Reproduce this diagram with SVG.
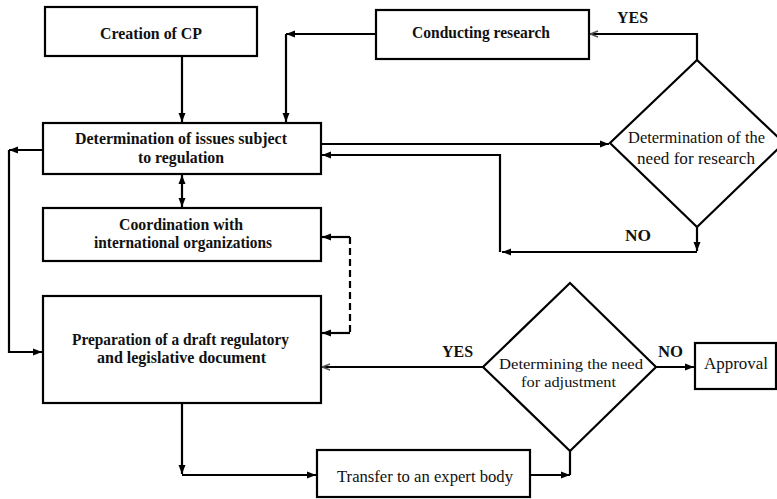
<svg xmlns="http://www.w3.org/2000/svg" width="777" height="499" viewBox="0 0 777 499">
  <style>
    .box { fill: #fff; stroke: #000; stroke-width: 2.2; }
    .line { fill: none; stroke: #000; stroke-width: 2.2; }
    .dash { fill: none; stroke: #000; stroke-width: 2.2; stroke-dasharray: 7 4; }
    .t { font-family: "Liberation Serif", "DejaVu Serif", "Noto Serif", serif; font-size: 17px; fill: #111; }
    .s { font-size: 15px; }
    .b { font-weight: bold; }
    .lbl { font-family: "Liberation Serif", "DejaVu Serif", "Noto Serif", serif; font-size: 16px; font-weight: bold; fill: #111; }
  </style>
  <defs>
    <marker id="arr" markerUnits="userSpaceOnUse" markerWidth="10" markerHeight="8" refX="9" refY="4" orient="auto">
      <path d="M0,0.5 L9,4 L0,7.5 Z" fill="#000"/>
    </marker>
    <marker id="arrS" markerUnits="userSpaceOnUse" markerWidth="10" markerHeight="8" refX="1" refY="4" orient="auto">
      <path d="M10,0.5 L1,4 L10,7.5 Z" fill="#000"/>
    </marker>
    <marker id="arrL" markerUnits="userSpaceOnUse" markerWidth="10" markerHeight="8" refX="9" refY="4" orient="auto">
      <path d="M1,1 L9,4 L1,7" fill="none" stroke="#555" stroke-width="1.4"/>
    </marker>
  </defs>

  <!-- connectors -->
  <g id="connectors">
    <path class="line" d="M182,56 L182,122" marker-end="url(#arr)"/>
    <path class="line" d="M376,34 L286,34" marker-end="url(#arr)"/>
    <path class="line" d="M286,34 L286,122" marker-end="url(#arr)"/>
    <path class="line" d="M321,144 L609,144" marker-end="url(#arr)"/>
    <path class="line" d="M697,60 L697,34 L590,34" marker-end="url(#arrL)"/>
    <path class="line" d="M697,227 L697,251" marker-end="url(#arr)"/>
    <path class="line" d="M697,252 L502,252" marker-end="url(#arr)"/>
    <path class="line" d="M500,252 L500,155 L322,155" marker-end="url(#arr)"/>
    <path class="line" d="M182,175 L182,207" marker-start="url(#arrS)" marker-end="url(#arr)"/>
    <path class="line" d="M43,150 L9,150" marker-end="url(#arr)"/>
    <path class="line" d="M9,150 L9,352 L42,352" marker-end="url(#arr)"/>
    <path class="line" d="M350,237 L322,237" marker-end="url(#arr)"/>
    <path class="dash" d="M350,237 L350,333"/>
    <path class="line" d="M350,333 L322,333" marker-end="url(#arr)"/>
    <path class="line" d="M483,367 L322,367" marker-end="url(#arrL)"/>
    <path class="line" d="M656,367 L694,367" marker-end="url(#arr)"/>
    <path class="line" d="M182,403 L182,474" marker-end="url(#arr)"/>
    <path class="line" d="M182,475 L316,475" marker-end="url(#arr)"/>
    <path class="line" d="M530,475 L570,475" marker-end="url(#arr)"/>
    <path class="line" d="M570,475 L570,451"/>
  </g>

  <g id="creation">
    <rect class="box" x="45" y="7" width="212" height="49"/>
    <text class="t b" x="100" y="39" textLength="102" lengthAdjust="spacingAndGlyphs">Creation of CP</text>
  </g>

  <g id="research">
    <rect class="box" x="376" y="10" width="213" height="49"/>
    <text class="t b" x="412" y="38" textLength="138" lengthAdjust="spacingAndGlyphs">Conducting research</text>
  </g>

  <g id="issues">
    <rect class="box" x="43" y="123" width="278" height="51"/>
    <text class="t b" x="75" y="144" textLength="212" lengthAdjust="spacingAndGlyphs">Determination of issues subject</text>
    <text class="t b" x="138" y="163" textLength="86" lengthAdjust="spacingAndGlyphs">to regulation</text>
  </g>

  <g id="coordination">
    <rect class="box" x="43" y="208" width="278" height="53"/>
    <text class="t b" x="119" y="230" textLength="124" lengthAdjust="spacingAndGlyphs">Coordination with</text>
    <text class="t b" x="94" y="248" textLength="178" lengthAdjust="spacingAndGlyphs">international organizations</text>
  </g>

  <g id="preparation">
    <rect class="box" x="43" y="296" width="278" height="107"/>
    <text class="t b" x="72" y="345" textLength="217" lengthAdjust="spacingAndGlyphs">Preparation of a draft regulatory</text>
    <text class="t b" x="97" y="363" textLength="169" lengthAdjust="spacingAndGlyphs">and legislative document</text>
  </g>

  <g id="need-research">
    <polygon class="box" points="697,60 784,143 697,227 610,143"/>
    <text class="t" x="628" y="143" textLength="137" lengthAdjust="spacingAndGlyphs">Determination of the</text>
    <text class="t" x="637" y="164" textLength="118" lengthAdjust="spacingAndGlyphs">need for research</text>
    <text class="lbl" x="617" y="23" textLength="31" lengthAdjust="spacingAndGlyphs">YES</text>
    <text class="lbl" x="625" y="241" textLength="26" lengthAdjust="spacingAndGlyphs">NO</text>
  </g>

  <g id="need-adjustment">
    <polygon class="box" points="570,283 656,367 570,451 483,367"/>
    <text class="t s" x="499" y="369" textLength="144" lengthAdjust="spacingAndGlyphs">Determining the need</text>
    <text class="t s" x="521" y="387" textLength="95" lengthAdjust="spacingAndGlyphs">for adjustment</text>
    <text class="lbl" x="442" y="357" textLength="31" lengthAdjust="spacingAndGlyphs">YES</text>
    <text class="lbl" x="658" y="357" textLength="25" lengthAdjust="spacingAndGlyphs">NO</text>
  </g>

  <g id="approval">
    <rect class="box" x="695" y="343" width="81" height="46"/>
    <text class="t" x="704" y="369" textLength="64" lengthAdjust="spacingAndGlyphs">Approval</text>
  </g>

  <g id="transfer">
    <rect class="box" x="317" y="450" width="213" height="47"/>
    <text class="t" x="337" y="482" textLength="176" lengthAdjust="spacingAndGlyphs">Transfer to an expert body</text>
  </g>
</svg>
